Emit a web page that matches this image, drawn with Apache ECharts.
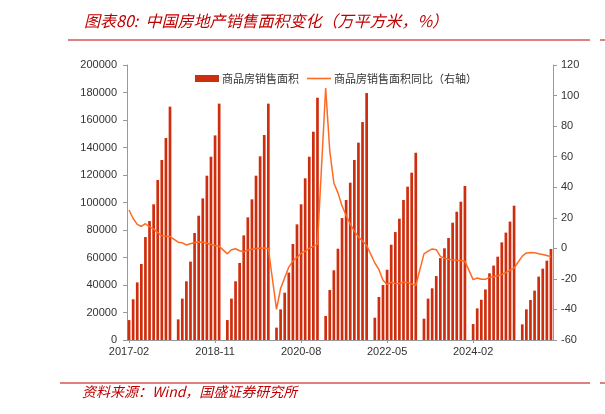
<!DOCTYPE html>
<html><head><meta charset="utf-8">
<script src="https://cdn.jsdelivr.net/npm/echarts@6/dist/echarts.min.js"></script>
<style>html,body{margin:0;padding:0;background:#fff}#c{width:605px;height:414px}</style>
</head><body><div id="c"></div>
<script>
// months: each year Feb..Dec (Jan has no standalone figure -> null)
const years = [2017, 2018, 2019, 2020, 2021, 2022, 2023, 2024, 2025];
const lastMonth2025 = 9;

// cumulative sales area (10k m2), Feb..Dec of each year
const area2017 = [14500, 29600, 41900, 55300, 74900, 86500, 98700, 116400, 130900, 146900, 169700];
const area2018 = [15000, 30100, 42700, 57000, 77800, 90400, 103000, 119500, 133300, 148800, 171900];
const area2019 = [14500, 30100, 42700, 56000, 76100, 89200, 102300, 119500, 133600, 149100, 171900];
const area2020 = [9000, 22300, 34400, 49000, 69800, 84100, 98700, 117600, 133300, 151500, 176200];
const area2021 = [17500, 36400, 50700, 66400, 88700, 101800, 114400, 130900, 143500, 158500, 179600];
const area2022 = [16200, 31300, 40000, 51100, 69300, 78500, 88200, 101800, 111500, 121700, 136200];
const area2023 = [15500, 30100, 37600, 46500, 59600, 66700, 74200, 85300, 93300, 100600, 112000];
const area2024 = [11600, 23000, 29300, 36800, 48500, 54100, 60600, 71000, 78100, 86100, 97700];
const area2025 = [11400, 22300, 29100, 35900, 46100, 51900, 57700, 66200];

// YoY growth of cumulative area (%), Feb..Dec of each year
const yoy2017 = [25.1, 19.5, 15.7, 14.3, 16.1, 14.0, 12.7, 10.3, 8.2, 7.9, 7.7];
const yoy2018 = [4.0, 3.6, 2.2, 3.0, 3.8, 4.2, 4.0, 3.3, 2.5, 1.8, 1.3];
const yoy2019 = [-3.6, -0.9, -0.3, -1.6, -2.2, -1.3, -0.6, -0.1, 0.1, 0.2, -0.1];
const yoy2020 = [-39.9, -26.3, -19.3, -12.3, -8.4, -5.8, -3.3, -1.8, 0.0, 1.3, 2.6];
const yoy2021 = [104.9, 63.8, 42.8, 36.3, 27.7, 21.5, 15.9, 11.3, 7.5, 4.8, 1.9];
const yoy2022 = [-9.6, -13.8, -20.9, -23.6, -22.2, -23.1, -23.0, -22.2, -22.3, -23.3, -24.3];
const yoy2023 = [-3.6, -1.8, -0.4, -0.9, -5.3, -6.5, -7.1, -7.5, -7.8, -8.0, -8.5];
const yoy2024 = [-20.5, -19.4, -20.2, -20.3, -19.0, -18.6, -18.0, -17.1, -15.8, -14.3, -12.9];
const yoy2025 = [-5.1, -3.0, -2.8, -2.9, -3.5, -4.0, -4.7, -5.5];

const areaByYear = [area2017, area2018, area2019, area2020, area2021, area2022, area2023, area2024, area2025];
const yoyByYear = [yoy2017, yoy2018, yoy2019, yoy2020, yoy2021, yoy2022, yoy2023, yoy2024, yoy2025];

const barName = '商品房销售面积';
const lineName = '商品房销售面积同比（右轴）';

const categories = [], areaData = [], yoyData = [];
years.forEach((y, yi) => {
  const startM = yi === 0 ? 2 : 1;
  const endM = y === 2025 ? lastMonth2025 : 12;
  for (let m = startM; m <= endM; m++) {
    categories.push(y + '-' + (m < 10 ? '0' + m : m));
    if (m === 1) { areaData.push(null); yoyData.push(null); }
    else { areaData.push(areaByYear[yi][m - 2]); yoyData.push(yoyByYear[yi][m - 2]); }
  }
});

const chart = echarts.init(document.getElementById('c'), null, {renderer: 'canvas'});
const axisFont = {fontFamily: 'Liberation Sans, Arial, sans-serif', fontSize: 11, color: '#333'};
const red = '#C00000';
const barColor = '#CF2E0E';
const lineColor = '#FF6A22';
chart.setOption({
  animation: false,
  backgroundColor: '#fff',
  title: {
    text: '图表80:  中国房地产销售面积变化（万平方米，%）',
    left: 79, top: 8,
    textStyle: {fontFamily: 'Noto Sans CJK SC', fontStyle: 'italic', fontWeight: 'normal', fontSize: 16, color: red}
  },
  graphic: [
    {type: 'line', shape: {x1: 68, y1: 40, x2: 590, y2: 40}, style: {stroke: red, lineWidth: 1}},
    {type: 'line', shape: {x1: 600, y1: 40, x2: 605, y2: 40}, style: {stroke: red, lineWidth: 1}},
    {type: 'line', shape: {x1: 60, y1: 383, x2: 590, y2: 383}, style: {stroke: red, lineWidth: 1}},
    {type: 'line', shape: {x1: 600, y1: 383, x2: 605, y2: 383}, style: {stroke: red, lineWidth: 1}},
    {type: 'text', left: 82, top: 385,
     style: {text: '资料来源：Wind，国盛证券研究所', fontFamily: 'Noto Sans CJK SC', fontStyle: 'italic', fontSize: 14, fill: red}}
  ],
  legend: {
    left: 190, top: 68, itemGap: 8, itemWidth: 24, itemHeight: 7,
    textStyle: {fontFamily: 'Noto Sans CJK SC', fontSize: 11, color: '#333', padding: [0, 0, 0, -2]},
    data: [
      {name: barName, icon: 'rect', itemStyle: {color: barColor}},
      {name: lineName, icon: 'path://M0,0 L30,0 L30,2 L0,2 Z', itemStyle: {color: lineColor}}
    ]
  },
  grid: {left: 127, right: 52, top: 65, bottom: 74},
  xAxis: {
    type: 'category', data: categories, boundaryGap: true,
    axisLine: {lineStyle: {color: '#999'}},
    axisTick: {show: true, interval: 20, alignWithLabel: true, length: 3, lineStyle: {color: '#999'}},
    axisLabel: Object.assign({interval: 20, margin: 6}, axisFont)
  },
  yAxis: [
    {type: 'value', min: 0, max: 200000, interval: 20000,
     splitLine: {show: false},
     axisLine: {show: true, lineStyle: {color: '#999'}},
     axisTick: {show: true, length: 4, lineStyle: {color: '#999'}},
     axisLabel: Object.assign({margin: 10, formatter: v => String(v)}, axisFont)},
    {type: 'value', min: -60, max: 120, interval: 20,
     splitLine: {show: false},
     axisLine: {show: true, lineStyle: {color: '#999'}},
     axisTick: {show: true, length: 4, lineStyle: {color: '#999'}},
     axisLabel: Object.assign({margin: 8, formatter: v => String(v)}, axisFont)}
  ],
  series: [
    {name: barName, type: 'bar', data: areaData, yAxisIndex: 0, barWidth: '66%',
     itemStyle: {color: barColor}},
    {name: lineName, type: 'line', data: yoyData, yAxisIndex: 1, connectNulls: true,
     symbol: 'none', lineStyle: {color: lineColor, width: 1.5}, itemStyle: {color: lineColor}, z: 5}
  ]
});
</script></body></html>
